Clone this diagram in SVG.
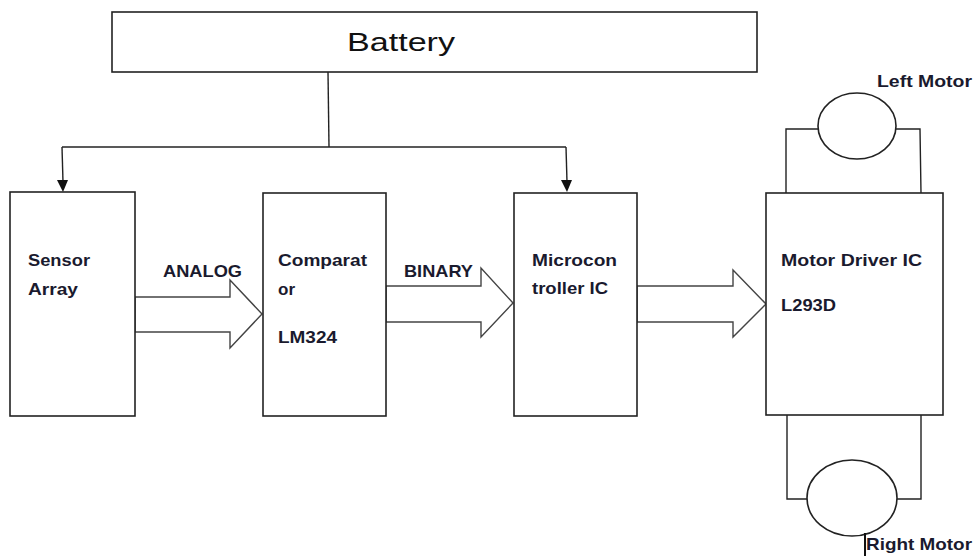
<svg xmlns="http://www.w3.org/2000/svg" width="976" height="556" viewBox="0 0 976 556">
<style>
.box{fill:#fff;stroke:#222;stroke-width:1.6}
.ln{fill:none;stroke:#222;stroke-width:1.4}
.blk{fill:#fff;stroke:#444;stroke-width:1.4}
.t{font-family:"Liberation Sans",Arial,sans-serif;font-weight:bold;font-size:17px;fill:#1a1a2e}
.bt{font-family:"Liberation Sans",Arial,sans-serif;font-size:26px;fill:#111}
</style>
<rect width="976" height="556" fill="#fff"/>
<g id="connectors">
<path class="ln" d="M328,72 L329,147"/>
<path class="ln" d="M62,147 L566,147"/>
<path class="ln" d="M62,147 L63,182"/>
<path d="M57,180 L68,180 L63,192 Z" fill="#111"/>
<path class="ln" d="M566,147 L567,182"/>
<path d="M561,180 L572,180 L567,192 Z" fill="#111"/>
<polygon class="blk" points="135,297 230,297 230,280 262,314 230,348 230,332 135,332"/>
<polygon class="blk" points="386,286 481,286 481,268 513,303 481,337 481,322 386,322"/>
<polygon class="blk" points="637,286 733,286 733,270 766,304 733,337 733,322 637,322"/>
<path class="ln" d="M786,193 L786,129 L819,129"/>
<path class="ln" d="M921,193 L920,129 L895,129"/>
<path class="ln" d="M787,415 L787,499 L807,499"/>
<path class="ln" d="M921,415 L921,499 L897,499"/>
<text class="t" x="163" y="277" textLength="79" lengthAdjust="spacingAndGlyphs">ANALOG</text>
<text class="t" x="404" y="277" textLength="69" lengthAdjust="spacingAndGlyphs">BINARY</text>
</g>
<g id="battery">
<rect class="box" x="112" y="12" width="645" height="60"/>
<text class="bt" x="347" y="51" textLength="108" lengthAdjust="spacingAndGlyphs">Battery</text>
</g>
<g id="sensor">
<rect class="box" x="10" y="192" width="125" height="224"/>
<text class="t" x="28" y="266" textLength="62" lengthAdjust="spacingAndGlyphs">Sensor</text>
<text class="t" x="28" y="295" textLength="50" lengthAdjust="spacingAndGlyphs">Array</text>
</g>
<g id="comparator">
<rect class="box" x="263" y="193" width="123" height="223"/>
<text class="t" x="278" y="266" textLength="89" lengthAdjust="spacingAndGlyphs">Comparat</text>
<text class="t" x="278" y="295">or</text>
<text class="t" x="278" y="343" textLength="59" lengthAdjust="spacingAndGlyphs">LM324</text>
</g>
<g id="microcontroller">
<rect class="box" x="514" y="193" width="123" height="223"/>
<text class="t" x="532" y="266" textLength="85" lengthAdjust="spacingAndGlyphs">Microcon</text>
<text class="t" x="532" y="294" textLength="76" lengthAdjust="spacingAndGlyphs">troller IC</text>
</g>
<g id="motordriver">
<rect class="box" x="766" y="193" width="177" height="222"/>
<text class="t" x="781" y="266" textLength="141" lengthAdjust="spacingAndGlyphs">Motor Driver IC</text>
<text class="t" x="781" y="311" textLength="55" lengthAdjust="spacingAndGlyphs">L293D</text>
</g>
<g id="leftmotor">
<ellipse class="box" cx="857" cy="126" rx="39" ry="33"/>
<text class="t" x="877" y="87" textLength="95" lengthAdjust="spacingAndGlyphs">Left Motor</text>
</g>
<g id="rightmotor">
<ellipse class="box" cx="852" cy="498" rx="45" ry="38"/>
<text class="t" x="866" y="550" textLength="106" lengthAdjust="spacingAndGlyphs">Right Motor</text>
<rect x="864" y="533" width="2" height="23" fill="#111"/>
</g>
</svg>
